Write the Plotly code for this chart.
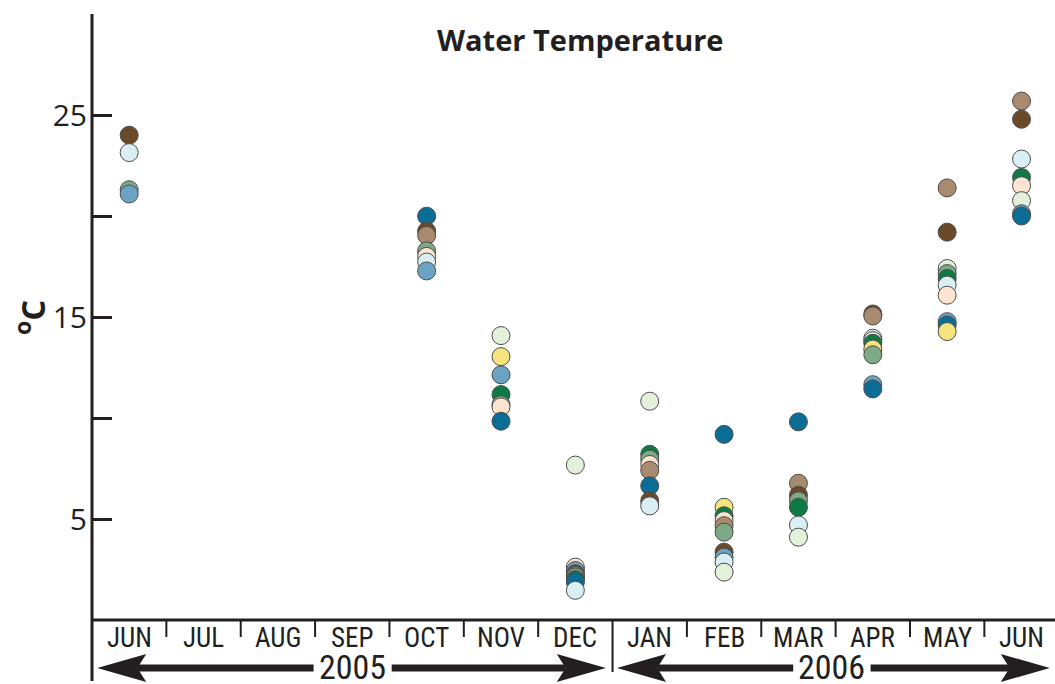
import plotly.graph_objects as go

# ---------------- data ----------------
months = ["JUN", "JUL", "AUG", "SEP", "OCT", "NOV", "DEC",
          "JAN", "FEB", "MAR", "APR", "MAY", "JUN"]
years = ["2005", "2006"]
N = None
dark_brown = [24.0, N, N, N, 19.25, N, 2.29, 5.9, 3.36, 6.18, 15.15, 19.2, 24.79]
tan        = [N, N, N, N, 19.04, N, 2.2, 7.41, 4.67, 6.77, 15.05, 21.39, 25.69]
teal       = [N, N, N, N, 19.99, 9.84, 1.88, 6.64, 9.19, 9.81, 11.44, 14.61, 20.0]
steel_blue = [21.09, N, N, N, 17.28, 12.14, 2.45, N, 3.11, N, 11.65, 14.77, 20.11]
dark_green = [N, N, N, N, N, 11.16, 2.0, 8.2, 5.16, 5.58, 13.7, 16.91, 21.91]
sage       = [21.3, N, N, N, 18.27, 10.66, 2.13, 7.96, 4.35, 5.9, 13.13, 17.15, N]
pale_green = [N, N, N, N, N, 14.08, 7.67, 10.83, 2.37, 4.1, 13.83, 17.4, 20.76]
pale_cyan  = [23.14, N, N, N, 17.72, N, 1.47, 5.65, 2.87, 4.7, 13.95, 16.58, 22.82]
peach      = [N, N, N, N, 18.0, 10.55, 2.62, 7.7, 4.92, N, N, 16.08, 21.5]
yellow     = [N, N, N, N, N, 13.04, N, N, 5.58, N, 13.41, 14.28, N]

series = [
    (dark_brown, "#6b4a2b"),
    (tan, "#a88a6e"),
    (teal, "#0a6d96"),
    (steel_blue, "#6aa3c3"),
    (dark_green, "#0b7a45"),
    (sage, "#7ea985"),
    (pale_green, "#e3f0da"),
    (pale_cyan, "#d9eff4"),
    (peach, "#fde4d0"),
    (yellow, "#f5e37d"),
]

# gather points; draw higher values first so lower ones sit on top
pts = []
for vals, col in series:
    for i, v in enumerate(vals):
        if v is not None:
            pts.append((v, i, col))
pts.sort(key=lambda p: -p[0])

W, H = 1055, 684
ML, MT, MB = 92, 14, 64
plot_h = H - MT - MB
INK = "#231f20"


def py(p):
    """pixel row -> paper y"""
    return (H - MB - p) / plot_h


fig = go.Figure()
fig.add_trace(go.Scatter(
    x=[p[1] for p in pts], y=[p[0] for p in pts], mode="markers",
    marker=dict(size=18, color=[p[2] for p in pts],
                line=dict(color="#4d4d4d", width=1)),
    showlegend=False, hoverinfo="x+y"))

shapes = []
# axis lines
shapes.append(dict(type="line", xref="paper", yref="paper", x0=0, x1=0,
                   y0=1, y1=py(681), line=dict(color=INK, width=3)))
shapes.append(dict(type="line", xref="paper", yref="paper", x0=0, x1=1,
                   y0=0, y1=0, line=dict(color=INK, width=3)))
# month dividers
for k in range(len(months) - 1):
    long_ = (k == 6)
    shapes.append(dict(type="line", xref="x", yref="paper", x0=k + 0.5, x1=k + 0.5,
                       y0=0, y1=py(672 if long_ else 637),
                       line=dict(color=INK, width=2)))


def arrow(x_tip_l, x_tip_r, gap_l, gap_r):
    yc = py(668)
    hw = 3.5 / plot_h
    hh = 14 / plot_h
    hl = 0.66  # head length in month units
    notch = 0.12
    out = []
    out.append(dict(type="rect", xref="x", yref="paper", x0=x_tip_l + hl - notch, x1=gap_l,
                    y0=yc - hw, y1=yc + hw, fillcolor=INK, line=dict(width=0)))
    out.append(dict(type="rect", xref="x", yref="paper", x0=gap_r, x1=x_tip_r - hl + notch,
                    y0=yc - hw, y1=yc + hw, fillcolor=INK, line=dict(width=0)))
    pl = (f"M {x_tip_l},{yc} L {x_tip_l + hl},{yc + hh} L {x_tip_l + hl - notch},{yc} "
          f"L {x_tip_l + hl},{yc - hh} Z")
    pr = (f"M {x_tip_r},{yc} L {x_tip_r - hl},{yc + hh} L {x_tip_r - hl + notch},{yc} "
          f"L {x_tip_r - hl},{yc - hh} Z")
    out.append(dict(type="path", xref="x", yref="paper", path=pl, fillcolor=INK,
                    line=dict(width=0)))
    out.append(dict(type="path", xref="x", yref="paper", path=pr, fillcolor=INK,
                    line=dict(width=0)))
    return out


shapes += arrow(-0.43, 6.41, 2.48, 3.53)
shapes += arrow(6.56, 12.38, 8.93, 9.97)

COND = "Liberation Sans Narrow, Arial Narrow, Roboto Condensed, sans-serif"
annotations = []
for i, m in enumerate(months):
    annotations.append(dict(x=i, y=py(621), xref="x", yref="paper", text=m,
                            showarrow=False, yanchor="top", xanchor="center",
                            borderpad=0,
                            font=dict(family=COND, size=27, color=INK)))
for yr, xc in zip(years, [3.0, 9.45]):
    annotations.append(dict(x=xc, y=py(667), xref="x", yref="paper", text=yr,
                            showarrow=False, yanchor="middle", xanchor="center",
                            borderpad=0,
                            font=dict(family=COND, size=34, color=INK)))
annotations.append(dict(x=(580 - ML) / (W - ML), y=py(40), xref="paper", yref="paper",
                        text="<b>Water Temperature</b>", showarrow=False,
                        xanchor="center", yanchor="middle",
                        font=dict(family="Open Sans", size=29, color=INK)))
annotations.append(dict(x=-62 / (W - ML), y=py(318), xref="paper", yref="paper",
                        text="<b><sup>o</sup>C</b>", showarrow=False, textangle=-90,
                        xanchor="center", yanchor="middle",
                        font=dict(family="Open Sans", size=33, color=INK)))

fig.update_layout(
    width=W, height=H, margin=dict(l=ML, r=0, t=MT, b=MB, pad=0, autoexpand=False),
    paper_bgcolor="white", plot_bgcolor="white",
    xaxis=dict(range=[-0.5, 12.45], showgrid=False, zeroline=False, showline=False,
               showticklabels=False, ticks="", automargin=False),
    yaxis=dict(range=[0, 30], showgrid=False, zeroline=False, showline=False,
               tickvals=[5, 10, 15, 20, 25, 30], ticktext=["5", "", "15", "", "25", ""],
               ticks="inside", ticklen=20, tickwidth=3, tickcolor=INK,
               ticklabelstandoff=4, automargin=False,
               tickfont=dict(family="Open Sans", size=30, color=INK)),
    shapes=shapes, annotations=annotations,
)
fig.write_html("out.html", config={"displayModeBar": False},
               post_script="document.body.style.margin='0';document.body.style.overflow='hidden';")
